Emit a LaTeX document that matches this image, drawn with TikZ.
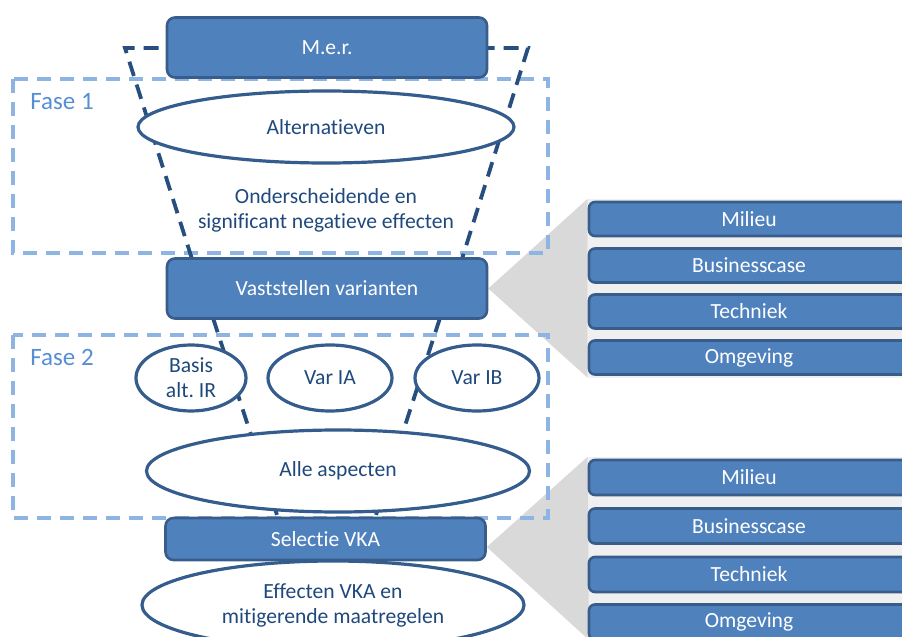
\documentclass[tikz,border=0pt]{standalone}
\usepackage{fontspec}
\setmainfont{Carlito}[Ligatures=NoCommon]
\usepackage{tikz}
\usetikzlibrary{shapes.geometric,positioning,backgrounds}
\definecolor{boxfill}{HTML}{4F81BD}
\definecolor{boxline}{HTML}{385D8A}
\definecolor{ovalline}{HTML}{345C8C}
\definecolor{ovaltext}{HTML}{1F497D}
\definecolor{funnel}{HTML}{264F7F}
\definecolor{phase}{HTML}{8EB4E3}
\definecolor{phasetext}{HTML}{558ED5}
\definecolor{fan}{HTML}{D9D9D9}
\definecolor{band}{HTML}{F0F0F0}
\frenchspacing

\begin{document}
\begin{tikzpicture}[x=0.5pt,y=-0.5pt,
  font=\fontsize{10.8}{12.5}\selectfont,
  stage/.style={draw=boxline,fill=boxfill,line width=1.3pt,rounded corners=4pt,text=white,
    minimum width=160pt,minimum height=30pt,inner sep=0pt},
  aspect/.style={stage,minimum height=17.5pt,rounded corners=3pt},
  oval/.style={ellipse,draw=ovalline,fill=white,line width=1.6pt,text=ovaltext,inner sep=0pt,align=center},
  phasebox/.style={draw=phase,line width=1.7pt,dash pattern=on 7pt off 4.5pt},
  phaselabel/.style={text=phasetext,font=\fontsize{12.5}{14}\selectfont,anchor=west,inner sep=0pt},
  funnelline/.style={draw=funnel,line width=1.9pt,dash pattern=on 7.5pt off 4.5pt}]
  \useasboundingbox (0,0) rectangle (902,637);
  \clip (0,0) rectangle (902,637);

  \node[stage] (mer) at (327,47.5) {M.e.r.};
  \node[oval,minimum width=188pt,minimum height=36pt] (alt) at (326,127) {Alternatieven};
  \node[text=ovaltext,align=center] (onder) at (326,210) {Onderscheidende en\\significant negatieve effecten};
  \node[stage] (vast) at (327,288.5) {Vaststellen varianten};
  \node[oval,minimum width=55pt,minimum height=33pt] (basis) at (191,378) {Basis\\alt. IR};
  \node[oval,minimum width=62pt,minimum height=33pt] (varia) at (330,378) {Var IA};
  \node[oval,minimum width=62pt,minimum height=33pt] (varib) at (477,378) {Var IB};
  \node[oval,minimum width=191.5pt,minimum height=41pt] (alle) at (338,471) {Alle aspecten};
  \node[stage,minimum height=21pt] (sel) at (325.5,539) {Selectie VKA};
  \node[oval,minimum width=191pt,minimum height=44pt] (eff) at (333,605) {Effecten VKA en\\mitigerende maatregelen};

  \node[aspect,minimum height=17pt] (milieuA) at (749,219) {Milieu};
  \node[aspect,minimum height=17pt] (businessA) at (749,265.5) {Businesscase};
  \node[aspect,minimum height=17pt] (techniekA) at (749,311.5) {Techniek};
  \node[aspect,minimum height=17pt] (omgevingA) at (749,357.5) {Omgeving};

  \node[aspect] (milieuB) at (749,477.5) {Milieu};
  \node[aspect] (businessB) at (749,526) {Businesscase};
  \node[aspect] (techniekB) at (749,574.5) {Techniek};
  \node[aspect] (omgevingB) at (749,622) {Omgeving};

  \node[phaselabel] (fase1) at (30,102) {Fase 1};
  \node[phaselabel] (fase2) at (30,357) {Fase 2};

  \begin{scope}[on background layer]
    \fill[band] ([yshift=1pt]milieuA.north west) rectangle ([yshift=-1pt]omgevingA.south east -| 902,0);
    \fill[fan] (vast.east) -- ([yshift=1pt]milieuA.north west) -- ([yshift=-1pt]omgevingA.south west) -- cycle;
    \fill[band] ([yshift=1pt]milieuB.north west) rectangle (902,640);
    \fill[fan] ([yshift=-4pt]sel.east) -- ([yshift=1pt]milieuB.north west) -- (589,640) -- cycle;
    \draw[phasebox] (13,79) rectangle (548,253);
    \draw[phasebox] (13,335) rectangle (548,518);
    \draw[funnelline] (192,259) -- (125,48) -- (528,48) -- (462,259);
    \draw[funnelline] (213,318) -- (278,518);
    \draw[funnelline] (440,318) -- (375,518);
  \end{scope}
\end{tikzpicture}
\end{document}
